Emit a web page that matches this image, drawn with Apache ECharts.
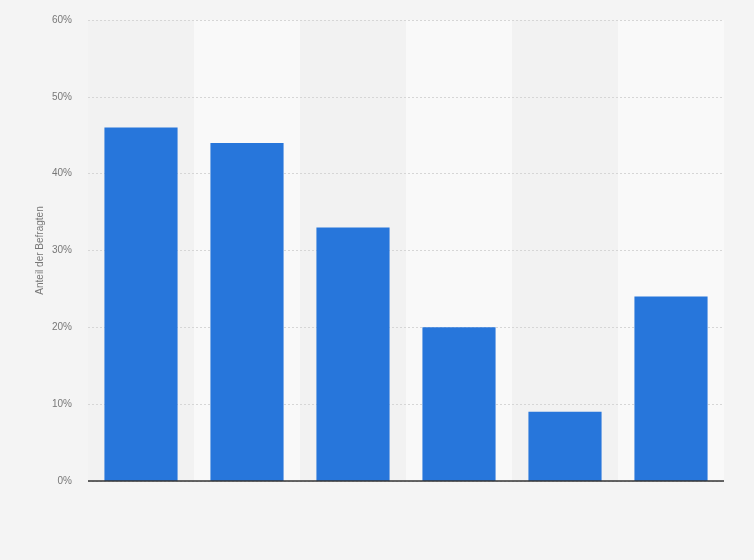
<!DOCTYPE html>
<html><head><meta charset="utf-8">
<script src="https://cdn.jsdelivr.net/npm/echarts@6/dist/echarts.min.js"></script>
<style>html,body{margin:0;padding:0;background:#f4f4f4;}#c{width:754px;height:560px;}</style>
</head><body><div id="c"></div>
<script>
const categories = ['A', 'B', 'C', 'D', 'E', 'F'];
const values = [46, 44, 33, 20, 9, 24];
const yTicks = [0, 10, 20, 30, 40, 50, 60];
const yAxisTitle = 'Anteil der Befragten';

const chart = echarts.init(document.getElementById('c'), null, {renderer: 'canvas'});
chart.setOption({
  backgroundColor: '#f4f4f4',
  animation: false,
  grid: {left: 88, right: 30, top: 20, bottom: 79},
  xAxis: {
    type: 'category',
    z: 0,
    data: categories,
    axisLabel: {show: false},
    axisTick: {show: false},
    axisLine: {show: false},
    splitArea: {show: true, areaStyle: {color: ['rgba(242,242,242,1)', 'rgba(249,249,249,1)']}}
  },
  yAxis: {
    type: 'value',
    z: 1,
    min: 0, max: 60, interval: 10,
    name: yAxisTitle,
    nameLocation: 'middle',
    nameGap: 43,
    nameMoveOverlap: false,
    nameTextStyle: {color: '#777', fontSize: 10, fontFamily: 'Arial, Liberation Sans'},
    axisLabel: {formatter: v => yTicks.includes(v) ? v + '%' : '', color: '#777', fontSize: 10, fontFamily: 'Arial, Liberation Sans', margin: 16},
    axisLine: {show: false},
    axisTick: {show: false},
    splitLine: {lineStyle: {color: '#d6d6d6', type: [2, 2], width: 1}}
  },
  series: [{
    type: 'bar',
    data: values,
    barWidth: '69%',
    itemStyle: {color: '#2776db'},
    markLine: {
      silent: true, symbol: 'none', label: {show: false},
      lineStyle: {color: '#333', width: 1.5, type: 'solid'},
      data: [{yAxis: 0}]
    }
  }]
});
</script></body></html>
